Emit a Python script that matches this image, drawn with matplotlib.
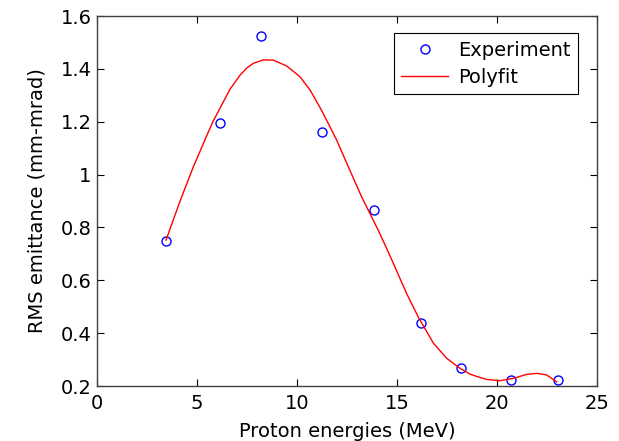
import matplotlib
matplotlib.use("Agg")
import matplotlib.pyplot as plt

# --- Dados ---
energia = [3.45, 6.17, 8.18, 11.23, 13.87, 16.2, 18.22, 20.68, 23.03]
emitancia = [0.75, 1.194, 1.526, 1.16, 0.865, 0.437, 0.269, 0.223, 0.223]

# curva de ajuste (pontos lidos ao longo da linha vermelha)
fit_x = [3.45, 4.12, 4.82, 5.52, 5.82, 6.15, 6.65, 7.15, 7.5, 7.82, 8.32, 8.82,
         9.48, 10.15, 10.65, 11.12, 11.48, 11.98, 12.4, 12.82, 13.23, 13.65,
         14.07, 14.48, 14.98, 15.48, 16.07, 16.82, 17.48, 18.15, 18.65, 19.0,
         19.48, 20.15, 20.82, 21.48, 21.98, 22.48, 22.98]
fit_y = [0.752, 0.893, 1.030, 1.153, 1.204, 1.251, 1.323, 1.376, 1.404, 1.421,
         1.434, 1.433, 1.411, 1.370, 1.320, 1.258, 1.206, 1.131, 1.058, 0.986,
         0.916, 0.852, 0.788, 0.721, 0.636, 0.550, 0.460, 0.362, 0.305, 0.267,
         0.245, 0.236, 0.225, 0.220, 0.229, 0.244, 0.248, 0.242, 0.216]

plt.rcParams["font.family"] = ["DejaVu Sans"]

fig = plt.figure(figsize=(6.19, 4.41), dpi=100)
ax = fig.add_axes([0.1567, 0.1247, 0.8078, 0.839])

ax.plot(energia, emitancia, "o", markerfacecolor="none", markeredgecolor="blue",
        markersize=6.5, markeredgewidth=1.0, label="Experiment")
ax.plot(fit_x, fit_y, "-", color="red", linewidth=1.0, label="Polyfit")

ax.set_xlim(0, 25)
ax.set_ylim(0.2, 1.6)
ax.set_xticks([0, 5, 10, 15, 20, 25])
ax.set_yticks([0.2, 0.4, 0.6, 0.8, 1.0, 1.2, 1.4, 1.6])
ax.set_yticklabels(["0.2", "0.4", "0.6", "0.8", "1", "1.2", "1.4", "1.6"])

ax.tick_params(direction="in", top=True, right=True, length=5, width=0.8,
               labelsize=14)
ax.tick_params(axis="x", pad=6)
ax.tick_params(axis="y", pad=4)
for s in ax.spines.values():
    s.set_color("#404040")
    s.set_linewidth(1.0)

ax.set_xlabel("Proton energies (MeV)", fontsize=14, labelpad=6)
ax.set_ylabel("RMS emittance (mm-mrad)", fontsize=14, labelpad=10)

leg = ax.legend(loc="upper right", bbox_to_anchor=(0.962, 0.954), fontsize=14,
                fancybox=False, framealpha=1, edgecolor="black",
                borderaxespad=0, handlelength=2.4, handletextpad=0.5,
                borderpad=0.4, labelspacing=0.4)
leg.get_frame().set_linewidth(0.8)

fig.savefig("out.png", dpi=100)
plt.close()
